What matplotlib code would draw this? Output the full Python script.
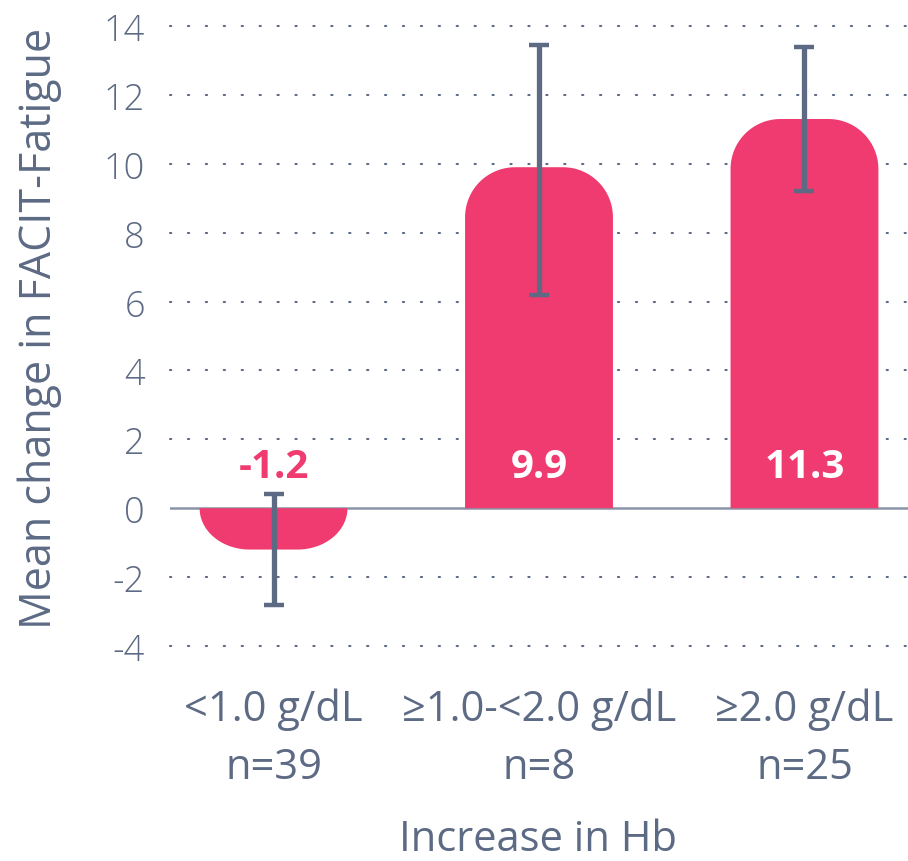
import numpy as np
import matplotlib
matplotlib.use("Agg")
import matplotlib.pyplot as plt
from matplotlib.patches import PathPatch
from matplotlib.path import Path

plt.rcParams['font.family'] = ['Open Sans', 'DejaVu Sans']

categories = ['<1.0 g/dL\nn=39', '\u22651.0-<2.0 g/dL\nn=8', '\u22652.0 g/dL\nn=25']
means = [-1.2, 9.9, 11.3]
err_low = [-2.8, 6.2, 9.2]
err_high = [0.4, 13.45, 13.4]
value_labels = ['-1.2', '9.9', '11.3']
yticks = [-4, -2, 0, 2, 4, 6, 8, 10, 12, 14]

pink = '#EF3B6F'
slate = '#5C6A84'

fig = plt.figure(figsize=(9.08, 8.62), dpi=100)
# axes in pixels: left 170, right 908, y 14 -> 27px, -4 -> 647px
W, H = 908, 862
ax = fig.add_axes([170 / W, (H - 647) / H, (908 - 170) / W, (647 - 27) / H])
ax.set_xlim(-0.39, 2.39)
ax.set_ylim(-4, 14)

# pixel -> data scale for rounded corners
px_x = 2.78 / 738
px_y = 18 / 620
rad_px = 50
bw = 0.557

for i, v in enumerate(means):
    x0, x1 = i - bw / 2, i + bw / 2
    rx = rad_px * px_x
    ry = min(rad_px * px_y, abs(v))
    s = np.sign(v)
    end = v
    t = np.linspace(0, np.pi / 2, 30)
    verts = [(x0, 0), (x0, end - s * ry)]
    # left corner
    verts += list(zip(x0 + rx - rx * np.cos(t), end - s * ry + s * ry * np.sin(t)))
    # right corner
    verts += list(zip(x1 - rx + rx * np.sin(t), end - s * ry + s * ry * np.cos(t)))
    verts += [(x1, end - s * ry), (x1, 0), (x0, 0)]
    codes = [Path.MOVETO] + [Path.LINETO] * (len(verts) - 2) + [Path.CLOSEPOLY]
    ax.add_patch(PathPatch(Path(verts, codes), facecolor=pink, edgecolor='none', zorder=3))

for y in yticks:
    if y != 0:
        ax.axhline(y, color=slate, lw=1.5, ls=(0, (0.6, 8)), dash_capstyle='round',
                   zorder=1, clip_on=False)
ax.axhline(0, color='#8A94A8', lw=1.8, zorder=2)

x = np.arange(len(means))
yerr = [np.array(means) - np.array(err_low), np.array(err_high) - np.array(means)]
ax.errorbar(x, means, yerr=yerr, fmt='none', ecolor=slate, elinewidth=3.8,
            capsize=7.5, capthick=3.2, zorder=4)

for i, lab in enumerate(value_labels):
    col = pink if means[i] < 0 else 'white'
    ax.text(i, 1.2, lab, ha='center', va='center', color=col, fontsize=29,
            fontweight='bold', zorder=5)

for s in ax.spines.values():
    s.set_visible(False)
ax.set_yticks(yticks)
ax.set_yticklabels([str(t) for t in yticks], fontsize=26, color=slate, fontweight='light')
ax.tick_params(axis='y', length=0, pad=18)
ax.set_xticks(x)
ax.set_xticklabels(categories, fontsize=30, color=slate, linespacing=1.5)
ax.tick_params(axis='x', length=0, pad=30)

fig.text(40 / W, 1 - 328 / H, 'Mean change in FACIT-Fatigue', rotation=90,
         ha='center', va='center', fontsize=31, color=slate)
fig.text(538 / W, 1 - 840 / H, 'Increase in Hb', ha='center', va='center',
         fontsize=30, color=slate)

fig.savefig('out.png', dpi=100)
